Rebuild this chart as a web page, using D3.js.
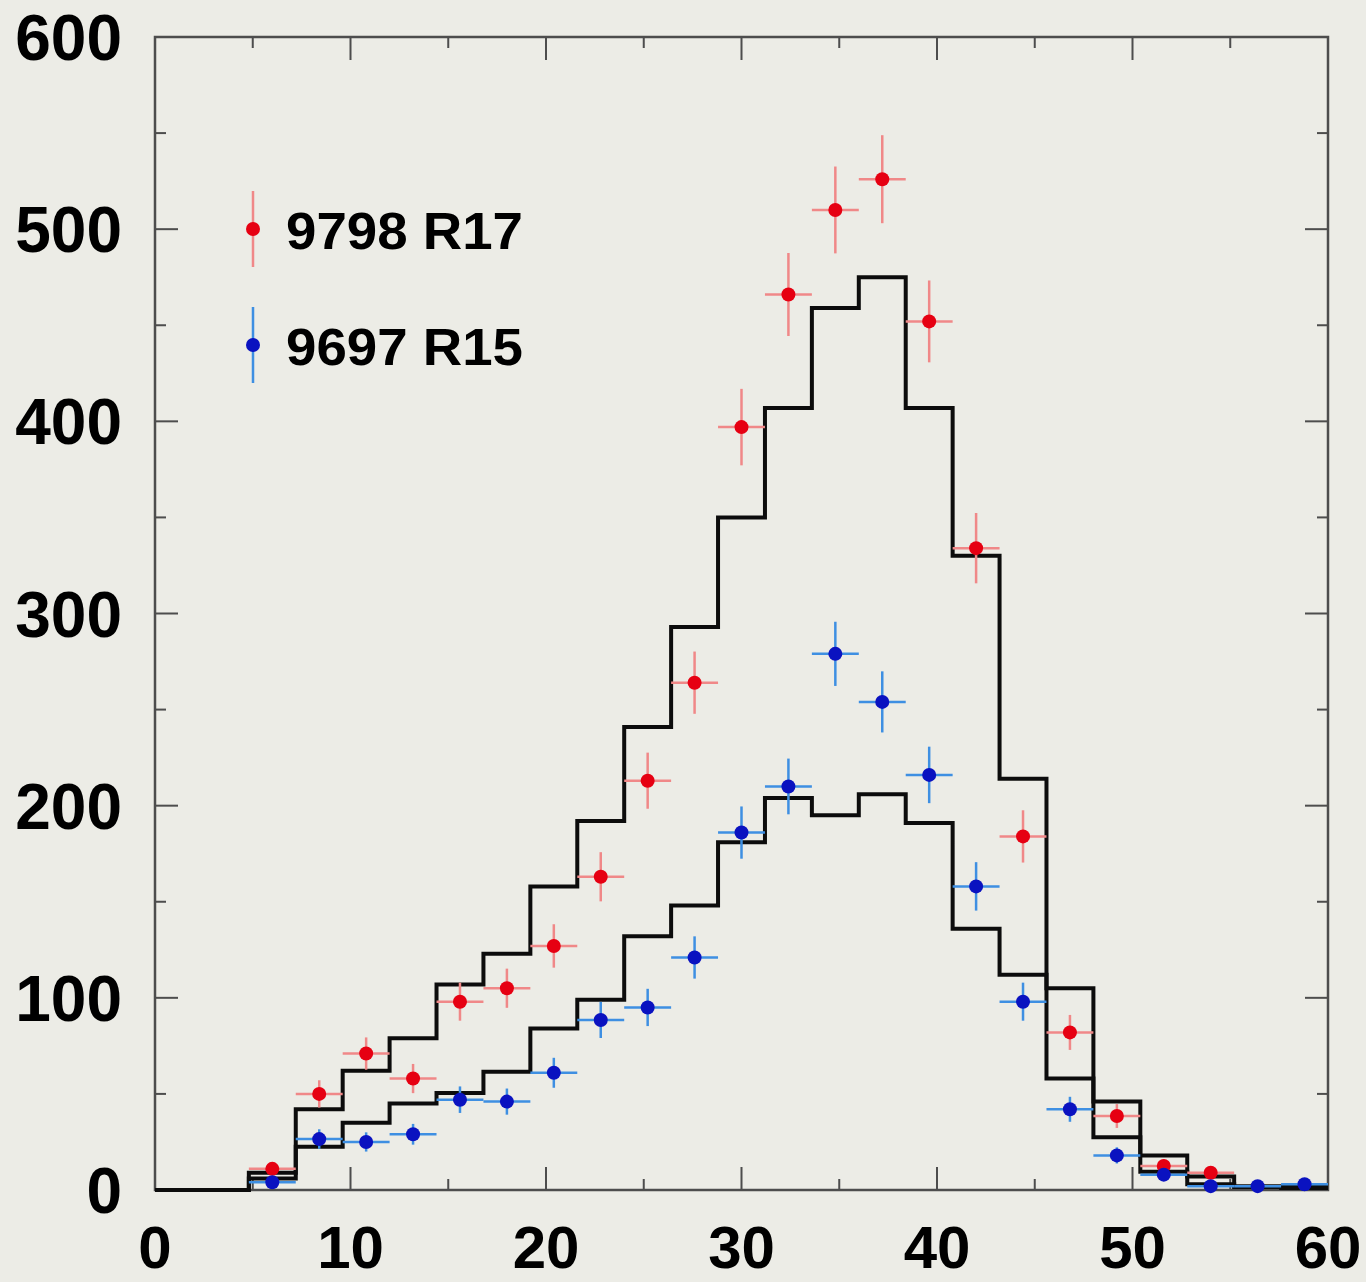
<!DOCTYPE html>
<html>
<head>
<meta charset="utf-8">
<script src="https://cdn.jsdelivr.net/npm/d3@7"></script>
<style>
  html, body { margin: 0; padding: 0; background: #ecece6; }
  svg { display: block; }
  text { font-family: "Liberation Sans", Arial, Helvetica, sans-serif; font-weight: bold; fill: #000; }
</style>
</head>
<body>
<svg id="chart" width="1366" height="1282"></svg>
<script>
// Bin edges of the histograms (width 2.4)
const binEdges = [0, 2.4, 4.8, 7.2, 9.6, 12, 14.4, 16.8, 19.2, 21.6, 24, 26.4, 28.8,
  31.2, 33.6, 36, 38.4, 40.8, 43.2, 45.6, 48, 50.4, 52.8, 55.2, 57.6, 60];

// Expected distributions (step histograms), one value per bin
const histUpper = [0, 0, 9, 42, 62, 79, 107, 123, 158, 192, 241, 293, 350, 407, 459,
  475, 407, 330, 214, 105, 46, 18, 7, 2, 1.5];
const histLower = [0, 0, 6, 22.5, 35, 45, 50.5, 61.5, 84, 99, 132, 148, 181, 204, 195,
  206, 191, 136, 112, 58, 27.5, 9.5, 3, 1.5, 1];

// Measured points at bin centres
const centers = [6, 8.4, 10.8, 13.2, 15.6, 18, 20.4, 22.8, 25.2, 27.6, 30, 32.4, 34.8,
  37.2, 39.6, 42, 44.4, 46.8, 49.2, 51.6, 54, 56.4, 58.8];
const redValues = [11, 50, 71, 58, 98, 105, 127, 163, 213, 264, 397, 466, 510, 526, 452,
  334, 184, 82, 38.5, 12.5, 9, null, null];
const redErrors = [3.3, 7.1, 8.4, 7.6, 9.9, 10.2, 11.3, 12.8, 14.6, 16.2, 19.9, 21.6, 22.6,
  22.9, 21.3, 18.3, 13.6, 9.1, 6.2, 3.5, 3, null, null];
const blueValues = [4, 26.5, 25, 29, 47, 46, 61, 88.5, 95, 121, 186, 210, 279, 254, 216,
  158, 98, 42, 18, 8, 2, 2, 3];
const blueErrors = [2, 5.1, 5, 5.4, 6.9, 6.8, 7.8, 9.4, 9.7, 11, 13.6, 14.5, 16.7, 15.9,
  14.7, 12.6, 9.9, 6.5, 4.2, 2.8, 1.4, 1.4, 1.7];
const halfBin = 1.2;

// Axis ticks and labels
const xMajor = [0, 10, 20, 30, 40, 50, 60];
const xMinor = [5, 15, 25, 35, 45, 55];
const yMajor = [0, 100, 200, 300, 400, 500, 600];
const yMinor = [50, 150, 250, 350, 450, 550];

const legendItems = [
  { label: "9798 R17", series: "red" },
  { label: "9697 R15", series: "blue" }
];

const colors = {
  red:  { marker: "#e60012", bar: "#f08888" },
  blue: { marker: "#0a12c0", bar: "#3e8fe2" }
};

const svg = d3.select("#chart");
const plot = { left: 155, top: 37, right: 1328, bottom: 1190 };

const x = d3.scaleLinear().domain([0, 60]).range([plot.left, plot.right]);
const y = d3.scaleLinear().domain([0, 600]).range([plot.bottom, plot.top]);

const axisColor = "#4d4d4d";

// Frame ticks: major and minor on all four sides, pointing inward
const g = svg.append("g");
function ticks(values, len) {
  values.forEach(v => {
    g.append("line").attr("x1", x(v)).attr("x2", x(v))
      .attr("y1", plot.bottom).attr("y2", plot.bottom - len)
      .attr("stroke", axisColor).attr("stroke-width", 2);
    g.append("line").attr("x1", x(v)).attr("x2", x(v))
      .attr("y1", plot.top).attr("y2", plot.top + len)
      .attr("stroke", axisColor).attr("stroke-width", 2);
  });
}
function yticks(values, len) {
  values.forEach(v => {
    g.append("line").attr("x1", plot.left).attr("x2", plot.left + len)
      .attr("y1", y(v)).attr("y2", y(v))
      .attr("stroke", axisColor).attr("stroke-width", 2);
    g.append("line").attr("x1", plot.right).attr("x2", plot.right - len)
      .attr("y1", y(v)).attr("y2", y(v))
      .attr("stroke", axisColor).attr("stroke-width", 2);
  });
}
ticks(xMajor, 23);
ticks(xMinor, 11);
yticks(yMajor, 23);
yticks(yMinor, 11);

// Frame
g.append("rect")
  .attr("x", plot.left).attr("y", plot.top)
  .attr("width", plot.right - plot.left).attr("height", plot.bottom - plot.top)
  .attr("fill", "none").attr("stroke", axisColor).attr("stroke-width", 2.5);

// Tick labels
svg.append("g").selectAll("text").data(xMajor).join("text")
  .attr("x", d => x(d)).attr("y", 1268)
  .attr("text-anchor", "middle")
  .attr("font-size", 60)
  .text(d => d);

svg.append("g").selectAll("text").data(yMajor).join("text")
  .attr("x", 122).attr("y", d => y(d) + 23)
  .attr("text-anchor", "end")
  .attr("font-size", 64)
  .text(d => d);

// Step histograms
const step = d3.line()
  .x(d => x(d[0]))
  .y(d => y(d[1]))
  .curve(d3.curveStepAfter);

[histUpper, histLower].forEach(hist => {
  const pts = hist.map((v, i) => [binEdges[i], v]);
  pts.push([binEdges[binEdges.length - 1], hist[hist.length - 1]]);
  svg.append("path")
    .attr("d", step(pts))
    .attr("fill", "none")
    .attr("stroke", "#0c0c0c")
    .attr("stroke-width", 4)
    .attr("stroke-linejoin", "miter");
});

// Data points with error bars
function drawSeries(values, errors, c) {
  const data = centers.map((cx, i) => ({ cx, v: values[i], e: errors[i] }))
    .filter(d => d.v != null);
  const s = svg.append("g");
  s.selectAll("line.h").data(data).join("line")
    .attr("x1", d => x(d.cx - halfBin)).attr("x2", d => x(d.cx + halfBin))
    .attr("y1", d => y(d.v)).attr("y2", d => y(d.v))
    .attr("stroke", c.bar).attr("stroke-width", 2.5);
  s.selectAll("line.v").data(data).join("line")
    .attr("x1", d => x(d.cx)).attr("x2", d => x(d.cx))
    .attr("y1", d => y(Math.max(0, d.v - d.e))).attr("y2", d => y(d.v + d.e))
    .attr("stroke", c.bar).attr("stroke-width", 2.5);
  s.selectAll("circle").data(data).join("circle")
    .attr("cx", d => x(d.cx)).attr("cy", d => y(d.v))
    .attr("r", 7)
    .attr("fill", c.marker);
}
drawSeries(redValues, redErrors, colors.red);
drawSeries(blueValues, blueErrors, colors.blue);

// Legend
const legend = svg.append("g");
legendItems.forEach((item, i) => {
  const cy = 229 + i * 116;
  const c = colors[item.series];
  legend.append("line")
    .attr("x1", 253).attr("x2", 253)
    .attr("y1", cy - 38).attr("y2", cy + 38)
    .attr("stroke", c.bar).attr("stroke-width", 2.5);
  legend.append("circle")
    .attr("cx", 253).attr("cy", cy).attr("r", 7)
    .attr("fill", c.marker);
  legend.append("text")
    .attr("x", 286).attr("y", cy + 20)
    .attr("font-size", 52)
    .attr("textLength", 237)
    .attr("lengthAdjust", "spacingAndGlyphs")
    .text(item.label);
});
</script>
</body>
</html>
